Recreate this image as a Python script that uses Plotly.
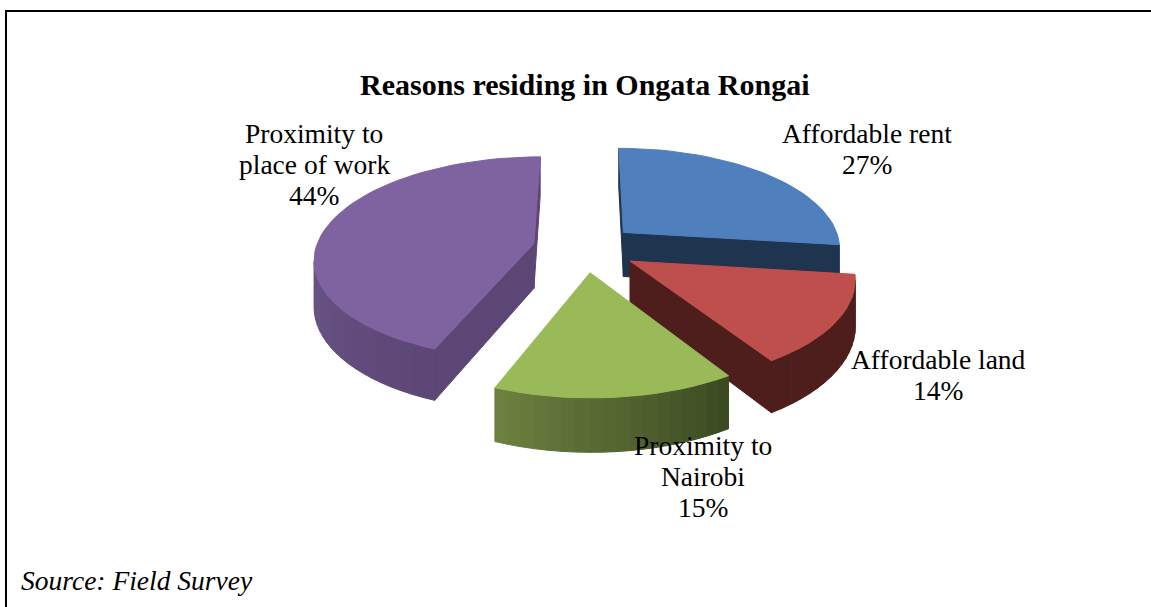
import math
import plotly.graph_objects as go

categories = ["Affordable rent", "Affordable land", "Proximity to Nairobi", "Proximity to place of work"]
values = [27, 14, 15, 44]
title_text = "Reasons residing in Ongata Rongai"
source_text = "Source: Field Survey"

top_colors = ["#4F7FBC", "#BE4F4C", "#9ABA59", "#7F63A1"]
side_light = ["#1F344F", "#4E1E1D", "#6E8240", "#6F5A8E"]
side_dark = ["#1F344F", "#4E1E1D", "#3A4821", "#5C4675"]
shade_range = [(0, 360), (97, 150), (147, 202), (200, 290)]
draw_order = [0, 3, 1, 2]
label_lines = [["Affordable rent"], ["Affordable land"], ["Proximity to", "Nairobi"], ["Proximity to", "place of work"]]
label_pos = [(867, 133), (938, 359), (703, 445), (314, 133)]

CX, CY, SX, SY, G, PULL, DEPTH = 585.0, 248.0, 218.0, 100.0, 0.14, 0.24, 45.0
LINE_STEP = 31


def project(x, y, z=0.0):
    w = 1 + G * y
    return CX + SX * x / w, CY - SY * y / w + DEPTH * z / w


def hexmix(a, b, t):
    ca = [int(a[i:i + 2], 16) for i in (1, 3, 5)]
    cb = [int(b[i:i + 2], 16) for i in (1, 3, 5)]
    return "#%02x%02x%02x" % tuple(round(p + (q - p) * t) for p, q in zip(ca, cb))


def area(pts):
    return sum(pts[i][0] * pts[(i + 1) % len(pts)][1] - pts[(i + 1) % len(pts)][0] * pts[i][1]
               for i in range(len(pts)))


fig = go.Figure()


def poly(pts, color):
    fig.add_trace(go.Scatter(
        x=[p[0] for p in pts] + [pts[0][0]], y=[p[1] for p in pts] + [pts[0][1]],
        mode="lines", fill="toself", fillcolor=color, line=dict(color=color, width=1),
        hoverinfo="skip", showlegend=False))


total = sum(values)
starts = []
acc = 0
for v in values:
    starts.append(acc)
    acc += 360 * v / total

for i in draw_order:
    a0 = starts[i]
    a1 = a0 + 360 * values[i] / total
    mid = math.radians((a0 + a1) / 2)
    ox, oy = PULL * math.sin(mid), PULL * math.cos(mid)
    n = max(8, int((a1 - a0) / 3))
    angs = [a0 + (a1 - a0) * k / n for k in range(n + 1)]
    rim = [(ox + math.sin(math.radians(a)), oy + math.cos(math.radians(a))) for a in angs]
    apex = (ox, oy)
    top_area = area([project(*p) for p in [apex] + rim])

    def face(p, q, c):
        pts = [project(*p), project(*q), project(q[0], q[1], 1), project(p[0], p[1], 1)]
        if area(pts) * top_area < 0:
            poly(pts, c)

    face(apex, rim[0], side_dark[i])
    face(rim[-1], apex, side_dark[i])
    lo, hi = shade_range[i]
    for k in range(n):
        t = min(1, max(0, ((angs[k] + angs[k + 1]) / 2 - lo) / (hi - lo)))
        face(rim[k], rim[k + 1], hexmix(side_dark[i], side_light[i], t))
    poly([project(*p) for p in [apex] + rim], top_colors[i])

font_family = "Liberation Serif, Times New Roman, serif"
annotations = [dict(x=585, y=84, text="<b>%s</b>" % title_text, font=dict(size=30, family=font_family, color="black"))]
for i, (lx, ly) in enumerate(label_pos):
    for j, line in enumerate(label_lines[i] + ["%d%%" % values[i]]):
        annotations.append(dict(x=lx, y=ly + j * LINE_STEP, text=line,
                                font=dict(size=27.5, family=font_family, color="black")))
annotations.append(dict(x=137, y=580, text="<i>%s</i>" % source_text, font=dict(size=27.5, family=font_family, color="black")))
for a in annotations:
    a.update(xref="x", yref="y", showarrow=False, xanchor="center", yanchor="middle", align="center")

fig.update_layout(
    width=1151, height=607, autosize=False,
    margin=dict(l=0, r=0, t=0, b=0), paper_bgcolor="white", plot_bgcolor="white",
    showlegend=False, annotations=annotations,
    xaxis=dict(range=[0, 1151], visible=False, fixedrange=True),
    yaxis=dict(range=[607, 0], visible=False, fixedrange=True),
    shapes=[
        dict(type="line", x0=5, x1=1151, y0=11, y1=11, xref="x", yref="y", line=dict(color="black", width=2)),
        dict(type="line", x0=6, x1=6, y0=10, y1=607, xref="x", yref="y", line=dict(color="black", width=2)),
    ],
)
fig.write_html("out.html", config=dict(displayModeBar=False), default_width="1151px", default_height="607px",
               post_script="document.body.style.margin='0';document.body.style.overflow='hidden';")
